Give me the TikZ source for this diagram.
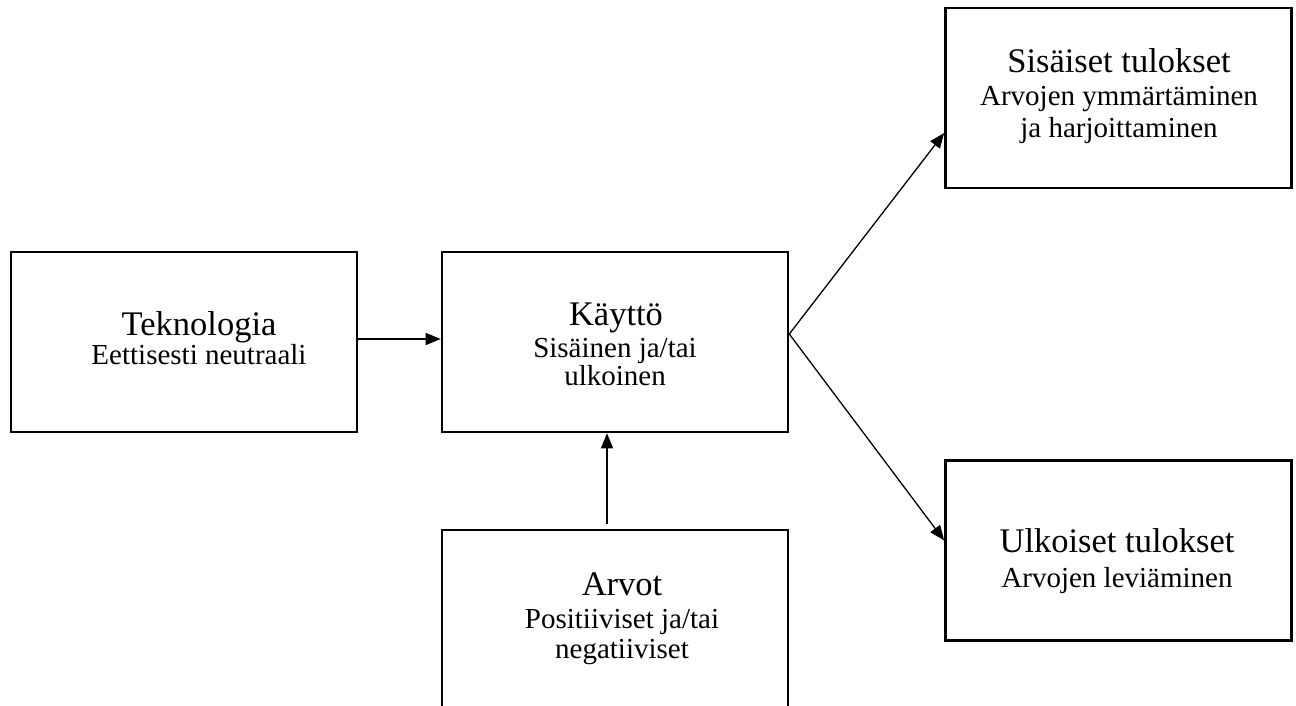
\documentclass[tikz,border=0pt]{standalone}
\usepackage{fontspec}
\setmainfont{Liberation Serif}
\usetikzlibrary{arrows.meta}
\newcommand{\ttlfont}{\fontsize{34.5}{40}\selectfont}
\newcommand{\subfnt}{\fontsize{29}{32}\selectfont}
\tikzset{
  box/.style={draw, line width=2.6pt, minimum width=346pt, minimum height=180pt, inner sep=0pt},
  ttl/.style={anchor=base, inner sep=0pt, font=\ttlfont},
  sub/.style={anchor=base, inner sep=0pt, font=\subfnt},
  conn/.style={line width=1.3pt, -{Triangle[length=15pt,width=12pt]}}
}
\begin{document}
\begin{tikzpicture}[x=1pt,y=-1pt]
\useasboundingbox (0,0) rectangle (1296,705);
\clip (0,0) rectangle (1296,705);
% boxes
\node[box] (tek) at (184,342) {};
\node[box] (kay) at (615,342) {};
\node[box] (arv) at (615,620) {};
\node[box] (sis) at (1118.5,98) {};
\node[box] (ulk) at (1118.5,550.5) {};
% texts
\node[ttl] (tekT) at (199,335) {Teknologia};
\node[sub] (tekS) at (199,364) {Eettisesti neutraali};
\node[ttl] (kayT) at (616,325) {Käyttö};
\node[sub] (kayS1) at (615,357) {Sisäinen ja/tai};
\node[sub] (kayS2) at (615,385) {ulkoinen};
\node[ttl] (arvT) at (622,595) {Arvot};
\node[sub] (arvS1) at (622,628) {Positiiviset ja/tai};
\node[sub] (arvS2) at (622,658) {negatiiviset};
\node[ttl] (sisT) at (1119,72) {Sisäiset tulokset};
\node[sub] (sisS1) at (1119,105) {Arvojen ymmärtäminen};
\node[sub] (sisS2) at (1119,137) {ja harjoittaminen};
\node[ttl] (ulkT) at (1117,552) {Ulkoiset tulokset};
\node[sub] (ulkS) at (1117,587) {Arvojen leviäminen};
% connectors
\draw[conn] ([yshift=3pt]tek.east) -- ([yshift=3pt]kay.west);
\draw[conn] ([xshift=-8pt,yshift=5pt]arv.north) -- ([xshift=-8pt]kay.south);
\coordinate (kout) at ([yshift=8pt]kay.east);
\draw[conn] (kout) -- ([yshift=-35pt]sis.west);
\draw[conn] (kout) -- ([yshift=10pt]ulk.west);
\end{tikzpicture}
\end{document}
